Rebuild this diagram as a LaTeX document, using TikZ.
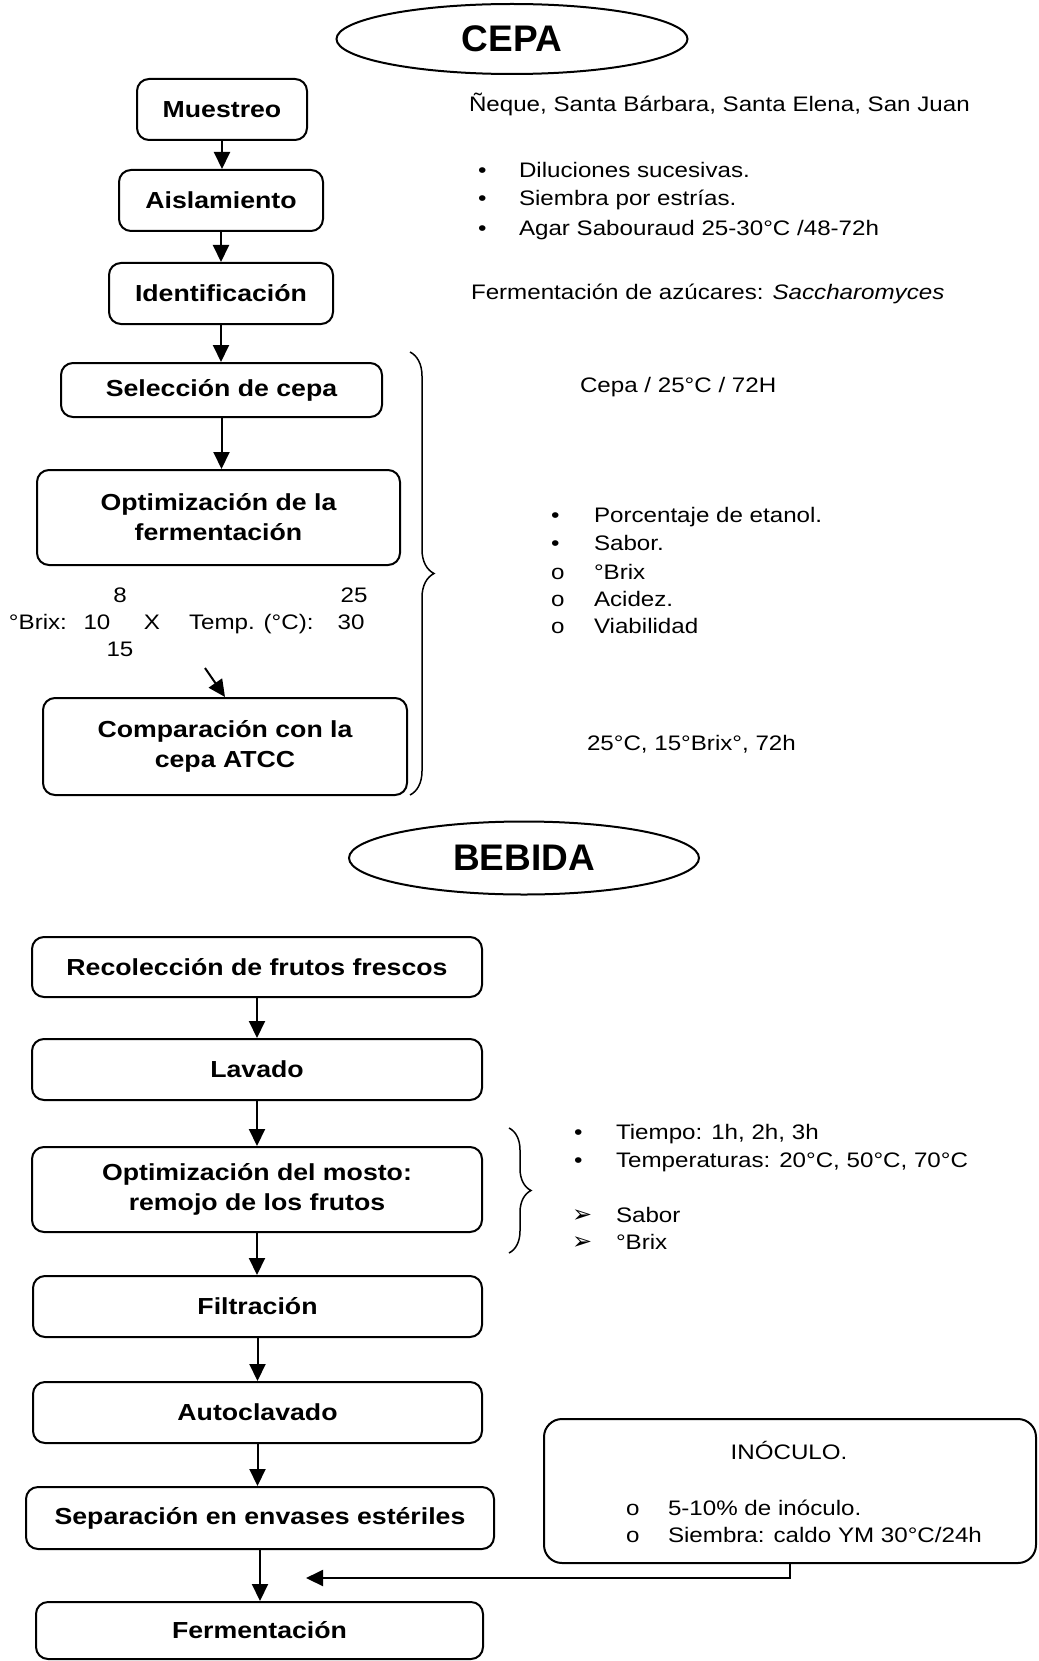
\documentclass[tikz,border=0pt]{standalone}
\usepackage{fontspec}
\setmainfont[FakeStretch=1.15]{Liberation Sans}
\newfontfamily\titlefamily{Liberation Sans}
\newfontfamily\symbfamily{DejaVu Sans}
\usepackage{tikz}
\usetikzlibrary{arrows.meta, shapes.geometric, decorations.pathreplacing}

\newcommand{\infofont}{\fontsize{21}{27}\selectfont}
\newcommand{\stepfont}{\fontsize{23.2}{30}\selectfont\bfseries}
\newcommand{\headfont}{\titlefamily\fontsize{37}{44}\selectfont\bfseries}

\begin{document}
\begin{tikzpicture}[x=1pt, y=-1pt, line width=2pt,
    >={Triangle[length=17pt, width=16pt]},
    stepbox/.style={draw, rounded corners=12pt, inner sep=0pt, align=center, font=\stepfont},
    head/.style={draw, ellipse, inner sep=0pt, font=\headfont},
    info/.style={inner sep=0pt, anchor=base west, font=\infofont},
    num/.style={inner sep=0pt, anchor=base, font=\infofont},
    curly/.style={decorate, line width=1.5pt, decoration={brace, amplitude=#1}}]
  \useasboundingbox (0,0) rectangle (1038,1661);

  % ---------------- CEPA ----------------
  \node[head, minimum width=351pt, minimum height=70pt] (cepa) at (512,39) {CEPA};

  % Steps
  \node[stepbox, minimum width=170pt, minimum height=61pt] (muestreo) at (222,109.5) {Muestreo};
  \node[stepbox, minimum width=204pt, minimum height=61pt] (aislam) at (221,200.5) {Aislamiento};
  \node[stepbox, minimum width=224pt, minimum height=61pt] (ident) at (221,293.5) {Identificación};
  \node[stepbox, minimum width=321pt, minimum height=54pt] (selec) at (221.5,390) {Selección de cepa};
  \node[stepbox, minimum width=363pt, minimum height=95pt] (optim) at (218.5,517.5)
    {Optimización de la\\fermentación};
  \node[stepbox, minimum width=364pt, minimum height=97pt] (compar) at (225,746.5)
    {Comparación con la\\cepa ATCC};

  \draw[->] (muestreo.south) -- (muestreo.south |- aislam.north);
  \draw[->] (aislam.south) -- (aislam.south |- ident.north);
  \draw[->] (ident.south) -- (ident.south |- selec.north);
  \draw[->] (selec.south) -- (selec.south |- optim.north);

  % Brix x temperature grid
  \node[num] (b8) at (120,602.5) {8};
  \node[info] (brix) at (8,629.5) {°Brix:};
  \node[num] (b10) at (97,629.5) {10};
  \node[num] (b15) at (120,656.5) {15};
  \node[num] (cross) at (152,629.5) {X};
  \node[info] (temp) at (188,629.5) {Temp. (°C):};
  \node[num] (t25) at (354,602.5) {25};
  \node[num] (t30) at (351,629.5) {30};
  \coordinate (diagstart) at (205,668);
  \draw[->] (diagstart) -- (compar.north);

  % Brace over selection/optimization/comparison
  \draw[curly=24pt] (410,352) -- (410,795);

  % Notes
  \node[info] (lugares) at (468,111.5) {Ñeque, Santa Bárbara, Santa Elena, San Juan};
  \node[info] (dot1) at (477,177.5) {•};
  \node[info] (dot2) at (477,205.5) {•};
  \node[info] (dot3) at (477,235.5) {•};
  \node[info] (dil) at (518,177.5) {Diluciones sucesivas.};
  \node[info] (siem) at (518,205.5) {Siembra por estrías.};
  \node[info] (agar) at (518,235.5) {Agar Sabouraud 25-30°C /48-72h};
  \node[info] (azuc) at (470,299.5) {Fermentación de azúcares: \textit{Saccharomyces}};
  \node[info] (cepa25) at (579,392.5) {Cepa / 25°C / 72H};
  \node[info] (dot4) at (550,522.5) {•};
  \node[info] (dot5) at (550,550.5) {•};
  \node[info] (ring1) at (550,579.5) {o};
  \node[info] (ring2) at (550,606.5) {o};
  \node[info] (ring3) at (550,633.5) {o};
  \node[info] (etanol) at (593,522.5) {Porcentaje de etanol.};
  \node[info] (sabor1) at (593,550.5) {Sabor.};
  \node[info] (brix1) at (593,579.5) {°Brix};
  \node[info] (acidez) at (593,606.5) {Acidez.};
  \node[info] (viab) at (593,633.5) {Viabilidad};
  \node[info] (cond) at (586,750.5) {25°C, 15°Brix°, 72h};

  % ---------------- BEBIDA ----------------
  \node[head, minimum width=350pt, minimum height=73pt] (bebida) at (524,858) {BEBIDA};

  % Steps
  \node[stepbox, minimum width=450pt, minimum height=60pt] (recol) at (257,967) {Recolección de frutos frescos};
  \node[stepbox, minimum width=450pt, minimum height=61pt] (lavado) at (257,1069.5) {Lavado};
  \node[stepbox, minimum width=450pt, minimum height=85pt] (mosto) at (257,1189.5)
    {Optimización del mosto:\\remojo de los frutos};
  \node[stepbox, minimum width=449pt, minimum height=61pt] (filtr) at (257.5,1306.5) {Filtración};
  \node[stepbox, minimum width=449pt, minimum height=61pt] (autocl) at (257.5,1412.5) {Autoclavado};
  \node[stepbox, minimum width=468pt, minimum height=62pt] (separ) at (260,1518) {Separación en envases estériles};
  \node[stepbox, minimum width=447pt, minimum height=57pt] (fermen) at (259.5,1630.5) {Fermentación};

  \draw[->] (recol.south) -- (recol.south |- lavado.north);
  \draw[->] (lavado.south) -- (lavado.south |- mosto.north);
  \draw[->] (mosto.south) -- (mosto.south |- filtr.north);
  \draw[->] (filtr.south) -- (filtr.south |- autocl.north);
  \draw[->] (autocl.south) -- (autocl.south |- separ.north);
  \draw[->] (separ.south) -- (separ.south |- fermen.north);

  % Brace next to the must step
  \draw[curly=22pt] (509,1128) -- (509,1253);
  \node[info] (dot6) at (573,1139.5) {•};
  \node[info] (dot7) at (573,1167.5) {•};
  \node[info] (tiempo) at (615,1139.5) {Tiempo: 1h, 2h, 3h};
  \node[info] (temps) at (615,1167.5) {Temperaturas: 20°C, 50°C, 70°C};
  \node[info] (tri1) at (571,1222.5) {\symbfamily\fontsize{24}{27}\selectfont ➢};
  \node[info] (tri2) at (571,1249.5) {\symbfamily\fontsize{24}{27}\selectfont ➢};
  \node[info] (sabor2) at (615,1222.5) {Sabor};
  \node[info] (brix2) at (615,1249.5) {°Brix};

  % Inoculum
  \node[draw, rounded corners=18pt, minimum width=492pt, minimum height=144pt] (inoc) at (790,1491) {};
  \node[num] (inoctitle) at (789,1459.5) {INÓCULO.};
  \node[info] (ring4) at (625,1515.5) {o};
  \node[info] (ring5) at (625,1542.5) {o};
  \node[info] (porc) at (667,1515.5) {5-10\% de inóculo.};
  \node[info] (caldo) at (667,1542.5) {Siembra: caldo YM 30°C/24h};
  \coordinate (inoctip) at (306,1578);
  \draw[->] (inoc.south) |- (inoctip);
\end{tikzpicture}
\end{document}
